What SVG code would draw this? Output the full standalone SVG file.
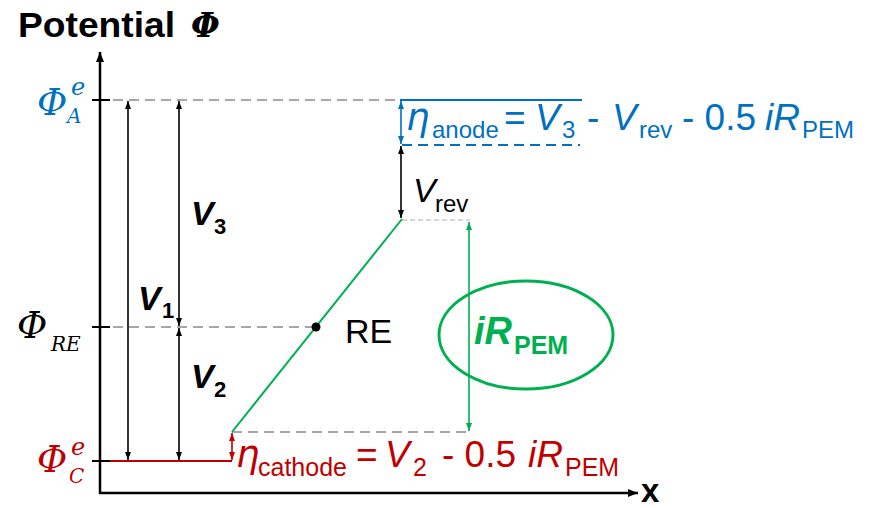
<svg xmlns="http://www.w3.org/2000/svg" width="873" height="508" viewBox="0 0 873 508">
<style>
.sans{font-family:"Liberation Sans",Arial,sans-serif}
.math{font-family:"DejaVu Serif","Liberation Serif",serif;font-style:italic}
.eta{font-family:"DejaVu Sans","Liberation Sans",sans-serif;font-style:italic}
.blue{fill:#0070c0}
.red{fill:#c00000}
.green{fill:#00b050}
.blk{fill:#000}
.gdash{stroke:#a6a6a6;stroke-width:2;stroke-dasharray:10 6;fill:none}
.ldash{stroke:#c8c8c8;stroke-width:1.5;stroke-dasharray:5 3;fill:none}
.arr{stroke-width:1.6;fill:none}
</style>
<defs>
<marker id="mk" viewBox="0 0 8 6" refX="8" refY="3" markerWidth="8" markerHeight="6" markerUnits="userSpaceOnUse" orient="auto-start-reverse"><path d="M0,0 L8,3 L0,6 z" fill="#000"/></marker>
<marker id="mb" viewBox="0 0 8 6" refX="8" refY="3" markerWidth="8" markerHeight="6" markerUnits="userSpaceOnUse" orient="auto-start-reverse"><path d="M0,0 L8,3 L0,6 z" fill="#0070c0"/></marker>
<marker id="mr" viewBox="0 0 8 6" refX="8" refY="3" markerWidth="8" markerHeight="6" markerUnits="userSpaceOnUse" orient="auto-start-reverse"><path d="M0,0 L8,3 L0,6 z" fill="#c00000"/></marker>
<marker id="mg" viewBox="0 0 8 6" refX="8" refY="3" markerWidth="8" markerHeight="6" markerUnits="userSpaceOnUse" orient="auto-start-reverse"><path d="M0,0 L8,3 L0,6 z" fill="#00b050"/></marker>
<marker id="max" viewBox="0 0 10 8" refX="10" refY="4" markerWidth="10" markerHeight="8" markerUnits="userSpaceOnUse" orient="auto"><path d="M0,0 L10,4 L0,8 z" fill="#000"/></marker>
</defs>
<rect width="873" height="508" fill="#fff"/>

<g id="axes">
<line x1="100" y1="494" x2="100" y2="52" stroke="#000" stroke-width="2.5" marker-end="url(#max)"/>
<line x1="99" y1="493" x2="638" y2="493" stroke="#000" stroke-width="2.5" marker-end="url(#max)"/>
<line x1="92" y1="100" x2="110" y2="100" stroke="#000" stroke-width="2"/>
<line x1="92" y1="327" x2="110" y2="327" stroke="#000" stroke-width="2"/>
<line x1="92" y1="461" x2="110" y2="461" stroke="#000" stroke-width="2"/>
<text class="sans" x="18" y="37" font-size="35" font-weight="bold" textLength="157" lengthAdjust="spacingAndGlyphs">Potential</text>
<text class="math" x="191" y="37" font-size="33" font-weight="bold">Φ</text>
<text class="sans" x="641" y="502" font-size="33" font-weight="bold">x</text>
</g>

<g id="levels">
<line class="gdash" x1="113" y1="100" x2="400" y2="100"/>
<line class="gdash" x1="113" y1="327" x2="316" y2="327"/>
<line class="gdash" x1="232" y1="432" x2="470" y2="432"/>
<line class="ldash" x1="402" y1="220" x2="470" y2="220"/>
<line x1="400" y1="100" x2="582" y2="100" stroke="#0070c0" stroke-width="2"/>
<line x1="402" y1="145" x2="580" y2="145" stroke="#0070c0" stroke-width="2" stroke-dasharray="10 6"/>
<line x1="110" y1="461" x2="232" y2="461" stroke="#c00000" stroke-width="2"/>
</g>

<g id="potential-profile">
<line x1="232" y1="432" x2="402" y2="219" stroke="#00b050" stroke-width="2"/>
</g>

<g id="connectors">
<line class="arr" x1="128" y1="101" x2="128" y2="460" stroke="#000" marker-start="url(#mk)" marker-end="url(#mk)"/>
<line class="arr" x1="179" y1="101" x2="179" y2="326" stroke="#000" marker-start="url(#mk)" marker-end="url(#mk)"/>
<line class="arr" x1="179" y1="328" x2="179" y2="460" stroke="#000" marker-start="url(#mk)" marker-end="url(#mk)"/>
<line class="arr" x1="401" y1="101" x2="401" y2="144" stroke="#0070c0" marker-start="url(#mb)" marker-end="url(#mb)"/>
<line class="arr" x1="401" y1="146" x2="401" y2="218" stroke="#000" marker-start="url(#mk)" marker-end="url(#mk)"/>
<line class="arr" x1="232" y1="433" x2="232" y2="460" stroke="#c00000" marker-start="url(#mr)" marker-end="url(#mr)"/>
<line class="arr" x1="469" y1="222" x2="469" y2="431" stroke="#00b050" marker-start="url(#mg)" marker-end="url(#mg)"/>
</g>

<g id="phi-A">
<text class="math blue" x="37" y="115" font-size="37">Φ</text>
<text class="math blue" x="71" y="95" font-size="24">e</text>
<text class="math blue" x="67" y="123" font-size="20">A</text>
</g>
<g id="phi-RE">
<text class="math blk" x="17" y="338" font-size="37">Φ</text>
<text class="math blk" x="51" y="351" font-size="20">RE</text>
</g>
<g id="phi-C">
<text class="math red" x="37" y="472" font-size="37">Φ</text>
<text class="math red" x="71" y="455" font-size="24">e</text>
<text class="math red" x="69" y="483" font-size="20">C</text>
</g>

<g id="V1"><text class="sans blk" font-weight="bold" font-size="34" y="310"><tspan x="138" font-style="italic">V</tspan><tspan x="162" y="318" font-size="22">1</tspan></text></g>
<g id="V3"><text class="sans blk" font-weight="bold" font-size="34" y="225"><tspan x="191" font-style="italic">V</tspan><tspan x="214" y="234" font-size="22">3</tspan></text></g>
<g id="V2"><text class="sans blk" font-weight="bold" font-size="34" y="388"><tspan x="191" font-style="italic">V</tspan><tspan x="214" y="397" font-size="22">2</tspan></text></g>

<g id="Vrev"><text class="sans blk" font-size="34" y="202"><tspan x="413" font-style="italic">V</tspan><tspan x="435" y="212" font-size="24">rev</tspan></text></g>

<g id="RE">
<circle cx="316" cy="327" r="4.5" fill="#000"/>
<text class="sans blk" x="345" y="343" font-size="34">RE</text>
</g>

<g id="iR-PEM">
<ellipse cx="526" cy="335" rx="87" ry="54" fill="none" stroke="#00b050" stroke-width="3"/>
<text class="sans green" font-weight="bold" font-size="38" y="344"><tspan x="474" font-style="italic">iR</tspan><tspan x="514" y="354" font-size="25">PEM</tspan></text>
</g>

<g id="eta-anode">
<text class="sans blue" font-size="37" y="130"><tspan class="eta" x="406">η</tspan><tspan x="432" y="138" font-size="24">anode</tspan><tspan x="504" y="130">=</tspan><tspan x="535" font-style="italic">V</tspan><tspan x="562" y="138" font-size="24">3</tspan><tspan x="587" y="130">-</tspan><tspan x="612" font-style="italic">V</tspan><tspan x="639" y="138" font-size="24">rev</tspan><tspan x="682" y="130">- 0.5</tspan><tspan x="765" font-style="italic">iR</tspan><tspan x="802" y="138" font-size="24">PEM</tspan></text>
</g>

<g id="eta-cathode">
<text class="sans red" font-size="37" y="467"><tspan class="eta" x="236">η</tspan><tspan x="258" y="476" font-size="25">cathode</tspan><tspan x="356" y="467">=</tspan><tspan x="385" font-style="italic">V</tspan><tspan x="413" y="476" font-size="25">2</tspan><tspan x="442" y="467">- 0.5</tspan><tspan x="528" font-style="italic">iR</tspan><tspan x="565" y="476" font-size="25">PEM</tspan></text>
</g>
</svg>
